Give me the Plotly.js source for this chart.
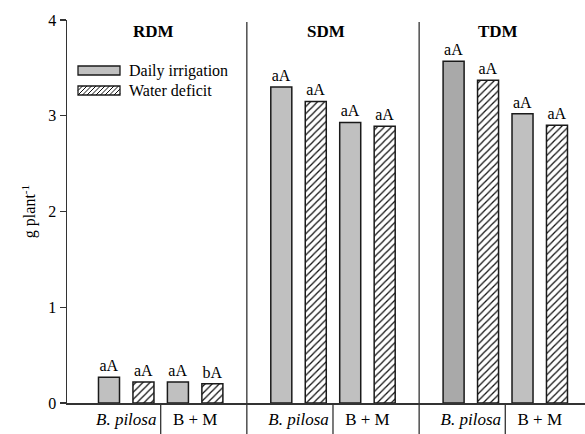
<!DOCTYPE html>
<html>
<head>
<meta charset="utf-8">
<script src="https://cdn.plot.ly/plotly-3.0.1.min.js"></script>
<style>html,body{margin:0;padding:0;background:#fff;}#chart{width:585px;height:434px;}</style>
</head>
<body>
<div id="chart"></div>
<script>
// ---- data ----
const panels = ['RDM', 'SDM', 'TDM'];
const groups = ['<i>B. pilosa</i>', 'B + M'];
const seriesNames = ['Daily irrigation', 'Water deficit'];
// values ordered panel by panel, group by group
const dailyValues   = [0.27, 0.22, 3.30, 2.93, 3.57, 3.02];
const deficitValues = [0.22, 0.20, 3.15, 2.89, 3.37, 2.90];
const dailyLetters   = ['aA', 'aA', 'aA', 'aA', 'aA', 'aA'];
const deficitLetters = ['aA', 'bA', 'aA', 'aA', 'aA', 'aA'];
const yTicks = [0, 1, 2, 3, 4];

// ---- layout geometry (style) ----
const L = 67, R = 585, T = 20, B = 403;
const pxPerX = 34.46, pxPerY = (B - T) / 4;
const firstCenterPx = 109;
const xr0 = -(firstCenterPx - L) / pxPerX;
const xr1 = xr0 + (R - L) / pxPerX;
const px2x = px => xr0 + (px - L) / pxPerX;
const py2y = py => (B - py) / pxPerY;
const serif = 'Liberation Serif, Times New Roman, serif';

const posDaily = [], posDeficit = [], tickPos = [], tickText = [];
panels.forEach((p, pi) => {
  groups.forEach((g, gi) => {
    const base = pi * 5 + gi * 2;
    posDaily.push(base);
    posDeficit.push(base + 1);
    tickPos.push(base + 0.5);
    tickText.push(g);
  });
});

const dailyColors = dailyValues.map((v, i) => i === 4 ? '#a9a9a9' : '#c0c0c0');

const traces = [
  {
    type: 'bar', name: seriesNames[0], x: posDaily, y: dailyValues, width: 0.61,
    marker: {color: dailyColors, line: {color: '#1a1a1a', width: 1.5}},
    text: dailyLetters, textposition: 'outside', constraintext: 'none', cliponaxis: false,
    textfont: {family: serif, size: 16, color: '#000'}, showlegend: false, hoverinfo: 'y'
  },
  {
    type: 'bar', name: seriesNames[1], x: posDeficit, y: deficitValues, width: 0.61,
    marker: {color: '#fff', line: {color: '#1a1a1a', width: 1.5},
      pattern: {shape: '/', fgcolor: '#111', bgcolor: '#fff', size: 5, solidity: 0.25}},
    text: deficitLetters, textposition: 'outside', constraintext: 'none', cliponaxis: false,
    textfont: {family: serif, size: 16, color: '#000'}, showlegend: false, hoverinfo: 'y'
  }
];

const shapes = [];
const annotations = [];
// panel dividers
[4, 9].forEach(xv => shapes.push({type: 'line', xref: 'x', yref: 'paper', x0: xv, x1: xv,
  y0: -(434 - B) / (B - T), y1: (B - 22) / (B - T), line: {color: '#333', width: 1.3}}));
// group dividers below axis
[1.5, 6.5, 11.5].forEach(xv => shapes.push({type: 'line', xref: 'x', yref: 'paper', x0: xv, x1: xv,
  y0: -(434 - B) / (B - T), y1: 0, line: {color: '#333', width: 1.3}}));
// panel titles
panels.forEach((p, pi) => annotations.push({text: '<b>' + p + '</b>', x: pi * 5 + 1.3, y: py2y(31),
  xref: 'x', yref: 'y', showarrow: false, font: {family: serif, size: 17, color: '#000'}}));

// manual legend
const boxL = 78, boxR = 120;
const boxes = [{top: 66, bot: 75}, {top: 86, bot: 95}];
shapes.push({type: 'rect', xref: 'x', yref: 'y', x0: px2x(boxL), x1: px2x(boxR),
  y0: py2y(boxes[0].bot), y1: py2y(boxes[0].top), fillcolor: '#c0c0c0', line: {color: '#1a1a1a', width: 1.3}});
shapes.push({type: 'rect', xref: 'x', yref: 'y', x0: px2x(boxL), x1: px2x(boxR),
  y0: py2y(boxes[1].bot), y1: py2y(boxes[1].top), fillcolor: '#fff', line: {color: '#1a1a1a', width: 1.3}});
(function () {
  const h = boxes[1].bot - boxes[1].top;
  let path = '';
  for (let t = boxL - h; t < boxR; t += 4.5) {
    const u0 = Math.max(0, boxL - t), u1 = Math.min(h, boxR - t);
    if (u1 <= u0) continue;
    path += 'M' + px2x(t + u0) + ',' + py2y(boxes[1].bot - u0) +
            'L' + px2x(t + u1) + ',' + py2y(boxes[1].bot - u1) + ' ';
  }
  shapes.push({type: 'path', xref: 'x', yref: 'y', path: path, line: {color: '#111', width: 1}});
})();
seriesNames.forEach((n, i) => annotations.push({text: n, xref: 'x', yref: 'y', x: px2x(127),
  y: py2y((boxes[i].top + boxes[i].bot) / 2), xanchor: 'left', yanchor: 'middle', showarrow: false,
  font: {family: serif, size: 16, color: '#000'}}));

const layout = {
  width: 585, height: 434,
  margin: {l: L, r: 585 - R, t: T, b: 434 - B, pad: 0},
  paper_bgcolor: '#fff', plot_bgcolor: '#fff',
  barmode: 'overlay', showlegend: false,
  font: {family: serif, color: '#000'},
  xaxis: {range: [xr0, xr1], showgrid: false, zeroline: false, showline: true,
    linecolor: '#333', linewidth: 1.5, ticks: '', tickvals: tickPos, ticktext: tickText,
    tickfont: {family: serif, size: 17, color: '#000'}, fixedrange: true},
  yaxis: {range: [0, 4], tickvals: yTicks, ticktext: yTicks.map(String), showgrid: false, zeroline: false,
    showline: true, linecolor: '#333', linewidth: 1.5, ticks: 'outside', ticklen: 6,
    tickcolor: '#333', tickwidth: 1.3, tickfont: {family: serif, size: 16, color: '#000'},
    title: {text: 'g plant<sup>-1</sup>', font: {family: serif, size: 16, color: '#000'}, standoff: 8},
    fixedrange: true},
  shapes: shapes,
  annotations: annotations
};

Plotly.newPlot('chart', traces, layout, {displayModeBar: false, staticPlot: true});
</script>
</body>
</html>
